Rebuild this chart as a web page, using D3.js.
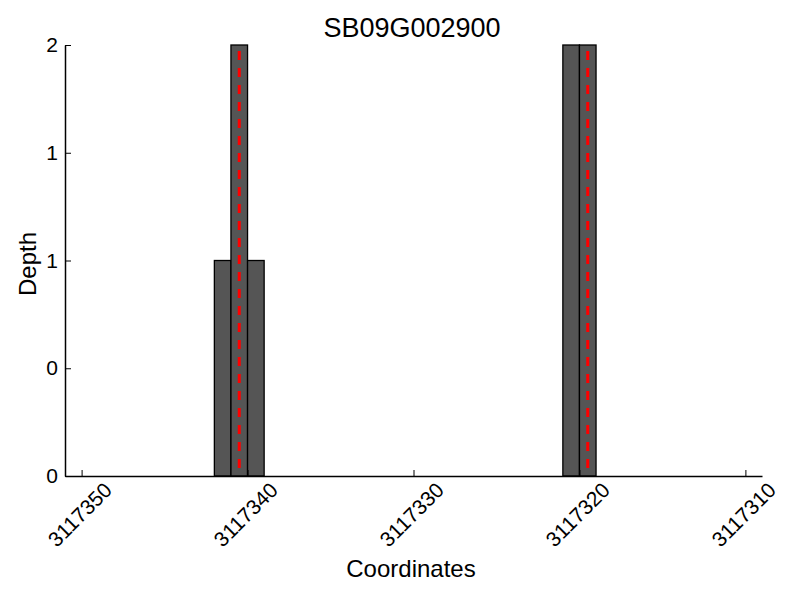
<!DOCTYPE html>
<html>
<head>
<meta charset="utf-8">
<script src="https://cdn.jsdelivr.net/npm/d3@7"></script>
<style>
  body { margin: 0; background: #fff; }
  svg { display: block; font-family: "Liberation Sans", Arial, sans-serif; }
</style>
</head>
<body>
<script>
const width = 800;
const height = 600;

// data
const title = "SB09G002900";
const barStarts = [3117341, 3117340, 3117339, 3117320, 3117319];
const barDepths = [1, 2, 1, 2, 2];
const markers = [3117340, 3117319];
const xTicks = [3117350, 3117340, 3117330, 3117320, 3117310];
const yTicks = [0, 0.5, 1, 1.5, 2];

const margin = {top: 45, right: 38, bottom: 124, left: 65};

const x = d3.scaleLinear()
    .domain([3117351, 3117309]) // reversed, like the reference
    .range([margin.left, width - margin.right]);

const y = d3.scaleLinear()
    .domain([0, 2])
    .range([height - margin.bottom, margin.top]);

const svg = d3.select('body').append('svg')
    .attr('width', width)
    .attr('height', height);

// bars
svg.append('g')
    .selectAll('rect')
    .data(barStarts)
    .enter().append('rect')
    .attr('x', d => x(d + 1))
    .attr('width', d => x(d) - x(d + 1))
    .attr('y', (d, i) => y(barDepths[i]))
    .attr('height', (d, i) => y(0) - y(barDepths[i]))
    .attr('fill', '#555555')
    .attr('stroke', '#000')
    .attr('stroke-width', 1.3);

// red dashed markers
svg.append('g')
    .selectAll('line')
    .data(markers)
    .enter().append('line')
    .attr('x1', d => x(d + 0.5))
    .attr('x2', d => x(d + 0.5))
    .attr('y1', y(2) + 6)
    .attr('y2', y(0))
    .attr('stroke', '#ff0000')
    .attr('stroke-width', 3)
    .attr('stroke-dasharray', '9,8');

// axes, ticks pointing inward
const xAxis = svg.append('g')
    .attr('transform', `translate(0,${y(0)})`)
    .call(d3.axisBottom(x).tickValues(xTicks).tickSizeInner(-6).tickSizeOuter(0).tickFormat(d3.format('d')));

xAxis.select('.domain').attr('stroke-width', 1.5);
xAxis.selectAll('text')
    .attr('font-size', 21)
    .attr('fill', '#000')
    .attr('text-anchor', 'middle')
    .attr('dy', null)
    .attr('y', 0)
    .attr('transform', 'translate(-1,40) rotate(-45)')
    .attr('dominant-baseline', 'middle');

const yAxis = svg.append('g')
    .attr('transform', `translate(${margin.left},0)`)
    .call(d3.axisLeft(y).tickValues(yTicks).tickSizeInner(-6).tickSizeOuter(0)
        .tickFormat(d => String(Math.trunc(d))));

yAxis.select('.domain').attr('stroke-width', 1.5);
yAxis.selectAll('text')
    .attr('font-size', 21)
    .attr('fill', '#000')
    .attr('x', -7);

// title and labels
svg.append('text')
    .attr('x', 412)
    .attr('y', 37)
    .attr('text-anchor', 'middle')
    .attr('font-size', 27)
    .text(title);

svg.append('text')
    .attr('x', 411)
    .attr('y', 577)
    .attr('text-anchor', 'middle')
    .attr('font-size', 24)
    .text('Coordinates');

svg.append('text')
    .attr('transform', `translate(36,264) rotate(-90)`)
    .attr('text-anchor', 'middle')
    .attr('font-size', 24)
    .text('Depth');
</script>
</body>
</html>
